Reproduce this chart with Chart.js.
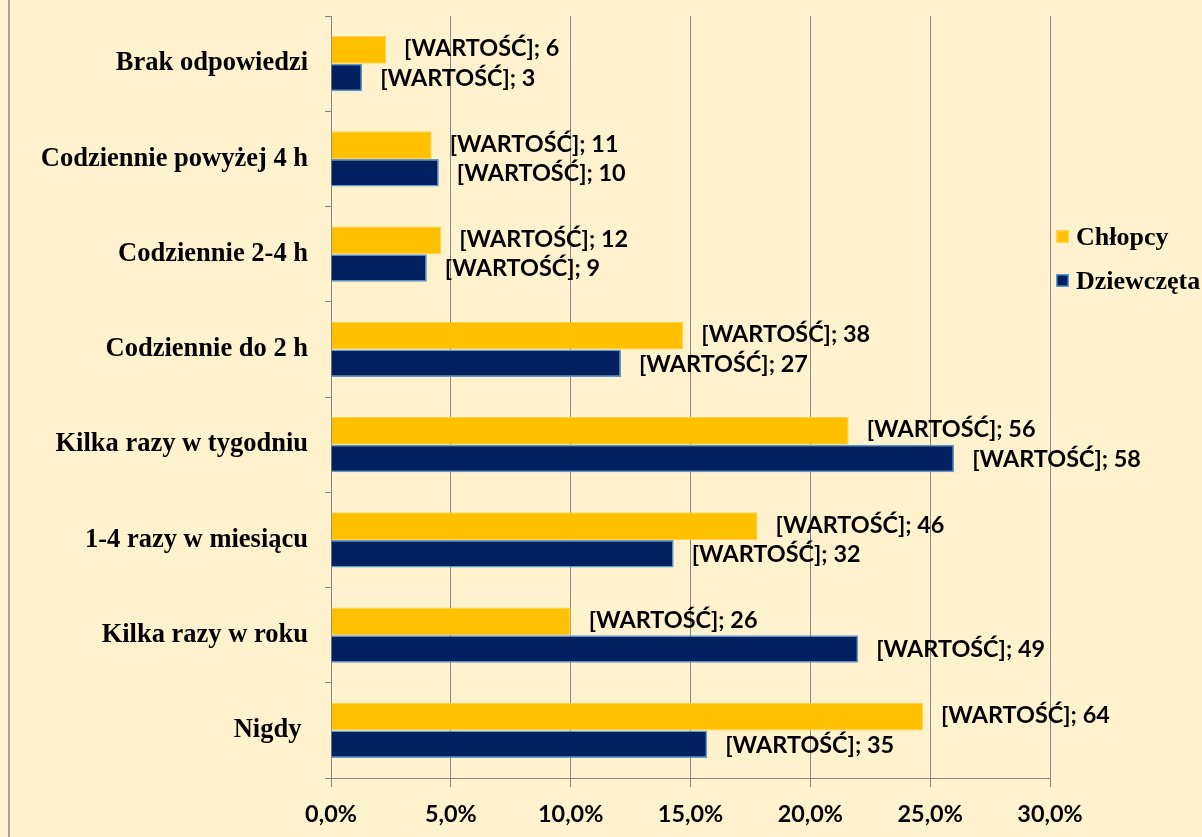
<!DOCTYPE html>
<html><head><meta charset="utf-8">
<script src="https://cdn.jsdelivr.net/npm/chart.js@4"></script>
<style>
html,body{margin:0;padding:0;background:#FFF2CC;overflow:hidden;width:1202px;height:837px;}
#wrap{position:absolute;left:0;top:0;width:1202px;height:837px;}
#frame{position:absolute;left:8px;top:0;width:2px;height:837px;background:#A6A39B;z-index:2;}
</style></head><body>
<div id="wrap"><canvas id="c" width="1202" height="837"></canvas></div>
<div id="frame"></div>
<script>
const categories = ['Brak odpowiedzi','Codziennie powyżej 4 h','Codziennie 2-4 h','Codziennie do 2 h','Kilka razy w tygodniu','1-4 razy w miesiącu','Kilka razy w roku','Nigdy '];
const seriesNames = ['Chłopcy','Dziewczęta'];
const boysPct = [2.3,4.2,4.6,14.7,21.6,17.8,10.0,24.7];
const girlsPct = [1.3,4.5,4.0,12.1,26.0,14.3,22.0,15.7];
const boysCount = [6,11,12,38,56,46,26,64];
const girlsCount = [3,10,9,27,58,32,49,35];
const xMin = 0, xMax = 30, xStep = 5;
const labelPrefix = '[WARTOŚĆ]; ';

// fit a sans substitute for Calibri bold to the reference width
const mctx = document.createElement('canvas').getContext('2d');
mctx.font = 'bold 26px Lato';
const sansSize = Math.round(26 * 169 / mctx.measureText('[WARTOŚĆ]; 64').width * 10) / 10;
const sansFont = {family: 'Lato', weight: 'bold', size: sansSize};
const serifFont = {family: '"Liberation Serif", "Times New Roman", serif', weight: 'bold', size: 26.5};

const valueLabels = {
  id: 'valueLabels',
  afterDatasetsDraw(chart) {
    const ctx = chart.ctx;
    const counts = [boysCount, girlsCount];
    ctx.save();
    ctx.font = 'bold ' + sansSize + 'px Lato';
    ctx.fillStyle = '#000';
    ctx.textAlign = 'left';
    ctx.textBaseline = 'middle';
    chart.data.datasets.forEach((ds, di) => {
      chart.getDatasetMeta(di).data.forEach((bar, i) => {
        ctx.fillText(labelPrefix + counts[di][i], bar.x + 18, bar.y + (di === 0 ? -1 : 1));
      });
    });
    ctx.restore();
  }
};

const customLegend = {
  id: 'customLegend',
  afterDraw(chart) {
    const ctx = chart.ctx;
    const x = chart.chartArea.right + 6;
    const ys = [237, 281];
    ctx.save();
    ctx.font = 'bold 26px "Liberation Serif", "Times New Roman", serif';
    ctx.textBaseline = 'middle';
    ctx.textAlign = 'left';
    chart.data.datasets.forEach((ds, i) => {
      const y = ys[i];
      ctx.fillStyle = ds.borderColor;
      ctx.fillRect(x, y - 7, 13, 13);
      ctx.fillStyle = ds.backgroundColor;
      ctx.fillRect(x + 1.5, y - 5.5, 10, 10);
      ctx.fillStyle = '#000';
      ctx.fillText(ds.label, x + 20, y + 1);
    });
    ctx.restore();
  }
};

new Chart(document.getElementById('c'), {
  type: 'bar',
  data: {
    labels: categories,
    datasets: [
      {label: seriesNames[0], data: boysPct, backgroundColor: '#FFC000', borderColor: '#FFD34D', borderWidth: 1},
      {label: seriesNames[1], data: girlsPct, backgroundColor: '#002060', borderColor: '#5B9BD5', borderWidth: 1.5}
    ]
  },
  options: {
    indexAxis: 'y',
    responsive: false,
    animation: false,
    devicePixelRatio: 1,
    layout: {padding: {top: 0, right: 152, bottom: 0, left: 0}},
    categoryPercentage: 0.58,
    barPercentage: 1.0,
    plugins: {legend: {display: false}, tooltip: {enabled: false}},
    scales: {
      x: {
        min: xMin, max: xMax,
        grid: {color: '#868686', lineWidth: 1, tickLength: 9, tickColor: '#868686'},
        border: {color: '#868686', width: 1},
        ticks: {
          stepSize: xStep,
          color: '#000',
          font: sansFont,
          padding: 13,
          maxRotation: 0,
          callback: v => v.toFixed(1).replace('.', ',') + '%'
        },
        afterFit(scale) { scale.height = 59; }
      },
      y: {
        grid: {offset: true, drawOnChartArea: false, tickLength: 6, color: '#868686', tickColor: '#868686'},
        border: {color: '#868686', width: 1},
        ticks: {color: '#000', font: serifFont, padding: 17},
        afterFit(scale) { scale.width = 331; scale.paddingTop = 16; scale.paddingBottom = 0; }
      }
    }
  },
  plugins: [valueLabels, customLegend]
});
</script>
</body></html>
